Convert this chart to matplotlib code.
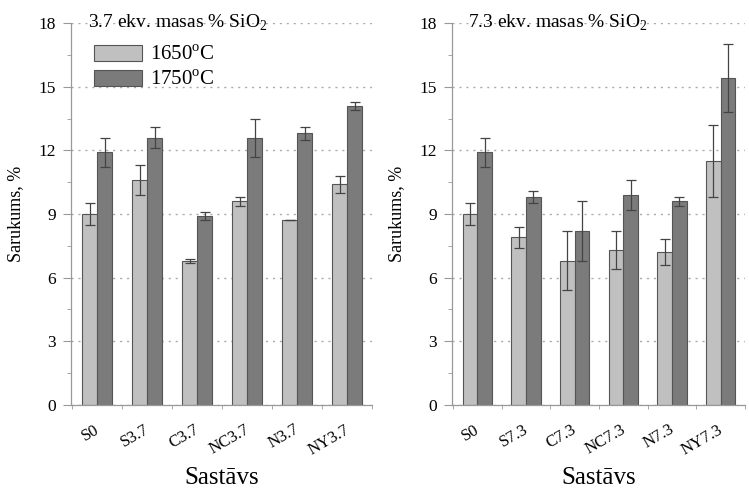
import matplotlib
matplotlib.use("Agg")
import matplotlib.pyplot as plt
import numpy as np
from matplotlib.ticker import MultipleLocator

plt.rcParams['font.family'] = ['Liberation Serif', 'DejaVu Serif']
plt.rcParams['mathtext.fontset'] = 'custom'
plt.rcParams['mathtext.rm'] = 'Liberation Serif'

# left panel: 3.7 ekv. masas % SiO2
labels_a = ['S0', 'S3.7', 'C3.7', 'NC3.7', 'N3.7', 'NY3.7']
low_a = [9.0, 10.6, 6.8, 9.6, 8.7, 10.4]
low_a_err = [0.5, 0.7, 0.1, 0.2, 0.0, 0.4]
high_a = [11.9, 12.6, 8.9, 12.6, 12.8, 14.1]
high_a_err = [0.7, 0.5, 0.2, 0.9, 0.3, 0.2]

# right panel: 7.3 ekv. masas % SiO2
labels_b = ['S0', 'S7.3', 'C7.3', 'NC7.3', 'N7.3', 'NY7.3']
low_b = [9.0, 7.9, 6.8, 7.3, 7.2, 11.5]
low_b_err = [0.5, 0.5, 1.4, 0.9, 0.6, 1.7]
high_b = [11.9, 9.8, 8.2, 9.9, 9.6, 15.4]
high_b_err = [0.7, 0.3, 1.4, 0.7, 0.2, 1.6]

series_names = ['1650$^{\\mathrm{o}}$C', '1750$^{\\mathrm{o}}$C']
light = '#c0c0c0'
dark = '#7b7b7b'
edge = '#555555'
axcol = '#999999'


def drawPanel(ax, labels, low, lowErr, high, highErr, title, xmax, legend):
    x = np.arange(len(labels))
    w = 0.3
    ax.yaxis.grid(True, linestyle=(0, (1.5, 3.5)), color='#aaaaaa', linewidth=1.0)
    ax.set_axisbelow(True)
    ekw = dict(ecolor='#444444', elinewidth=0.9, capsize=3.5, capthick=0.9)
    b1 = ax.bar(x - w / 2, low, w, color=light, edgecolor=edge, linewidth=0.8,
                yerr=lowErr, error_kw=ekw, label=series_names[0], zorder=2)
    b2 = ax.bar(x + w / 2, high, w, color=dark, edgecolor=edge, linewidth=0.8,
                yerr=highErr, error_kw=ekw, label=series_names[1], zorder=2)
    ax.set_xlim(-0.52, xmax)
    ax.set_ylim(0, 18)
    ax.yaxis.set_major_locator(MultipleLocator(3))
    ax.yaxis.set_minor_locator(MultipleLocator(1.5))
    # label anchors sit a bit right of the group centre (slanted, right aligned)
    ax.set_xticks(x + 0.1)
    ax.set_xticklabels(labels, rotation=30, fontsize=12, ha='right')
    ax.set_xticks(np.arange(len(labels) + 1) - 0.5, minor=True)
    ax.tick_params(axis='x', which='major', length=0, pad=12)
    ax.tick_params(axis='x', which='minor', length=3, color=axcol, direction='out')
    ax.tick_params(axis='y', which='major', length=6, color=axcol, labelsize=12.5, pad=5)
    ax.tick_params(axis='y', which='minor', length=3, color=axcol)
    for s in ['top', 'right']:
        ax.spines[s].set_visible(False)
    for s in ['left', 'bottom']:
        ax.spines[s].set_color(axcol)
        ax.spines[s].set_linewidth(0.9)
    # hide the top gridline at 18
    ax.get_ygridlines()[-1].set_visible(False)
    ax.set_ylabel('Sarukums, %', fontsize=13, labelpad=10)
    ax.set_xlabel('Sastāvs', fontsize=18)
    ax.xaxis.set_label_coords(0.5, -0.163)
    ax.text(0.055, 1.0, title, transform=ax.transAxes, fontsize=14, va='center', ha='left')
    if legend:
        ax.legend(handles=[b1, b2], loc='upper left', bbox_to_anchor=(0.05, 0.965),
                  frameon=False, fontsize=15, handlelength=2.3, handleheight=0.8,
                  handletextpad=0.35, labelspacing=0.25, borderaxespad=0)


fig = plt.figure(figsize=(7.49, 4.90), dpi=100)
ax1 = fig.add_axes([0.0948, 0.1735, 0.402, 0.7795])
ax2 = fig.add_axes([0.6035, 0.1735, 0.391, 0.7795])

drawPanel(ax1, labels_a, low_a, low_a_err, high_a, high_a_err,
          '3.7 ekv. masas % SiO$_{\\mathrm{2}}$', 5.5, True)
drawPanel(ax2, labels_b, low_b, low_b_err, high_b, high_b_err,
          '7.3 ekv. masas % SiO$_{\\mathrm{2}}$', 5.35, False)

fig.savefig('out.png', dpi=100)
